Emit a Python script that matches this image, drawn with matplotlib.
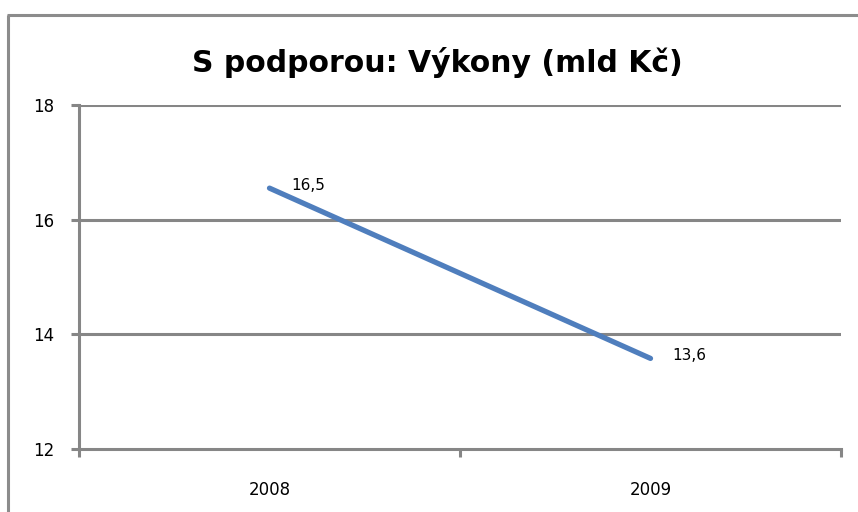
import matplotlib.pyplot as plt
from matplotlib.lines import Line2D

# chart data
years = ["2008", "2009"]
vykony = [16.55, 13.58]
value_labels = ["16,5", "13,6"]
y_ticks = [12, 14, 16, 18]

grid_col = "#868686"
line_col = "#4F7EBD"

fig = plt.figure(figsize=(8.58, 5.12), dpi=100)
fig.patch.set_facecolor("white")

# outer chart border (only left and top visible in the crop)
fig.add_artist(Line2D([8/858, 8/858], [0, 1-15/512], transform=fig.transFigure,
                      color="#8c8c8c", lw=2.2, solid_capstyle="butt"))
fig.add_artist(Line2D([7/858, 1], [1-15/512, 1-15/512], transform=fig.transFigure,
                      color="#8c8c8c", lw=2.2, solid_capstyle="butt"))

ax = fig.add_axes([79/858, 1-449/512, (841-79)/858, (449-105)/512])

x = list(range(len(years)))
ax.plot(x, vykony, color=line_col, lw=3.8, solid_capstyle="round", zorder=3)
for xi, v, lab in zip(x, vykony, value_labels):
    ax.annotate(lab, (xi, v), xytext=(16, 2), textcoords="offset points",
                ha="left", va="center", fontsize=11, family="DejaVu Sans",
                color="black")

ax.set_xlim(-0.5, len(years)-0.5)
ax.set_ylim(12, 18)
ax.set_yticks(y_ticks)
ax.set_yticklabels([str(t) for t in y_ticks])
for t in y_ticks[1:]:
    ax.axhline(t, color=grid_col, lw=2.2, zorder=1)

# category tick marks between categories, labels at centres
ax.set_xticks([-0.5, 0.5, 1.5])
ax.set_xticklabels([])
ax.set_xticks(x, minor=True)
ax.set_xticklabels(years, minor=True)
ax.tick_params(axis="x", which="major", direction="out", length=6, width=2.2,
               color=grid_col)
ax.tick_params(axis="x", which="minor", length=0, pad=23, labelsize=12)
ax.tick_params(axis="y", direction="out", length=6, width=2.2, color=grid_col,
               labelsize=12, pad=12)

for side in ["top", "right"]:
    ax.spines[side].set_visible(False)
for side in ["left", "bottom"]:
    ax.spines[side].set_color(grid_col)
    ax.spines[side].set_linewidth(2.2)

fig.text(437/858, 1-62/512, "S podporou: Výkony (mld Kč)", ha="center",
         va="center", fontsize=21.5, fontweight="bold", family="DejaVu Sans")

fig.savefig("out.png", dpi=100)
